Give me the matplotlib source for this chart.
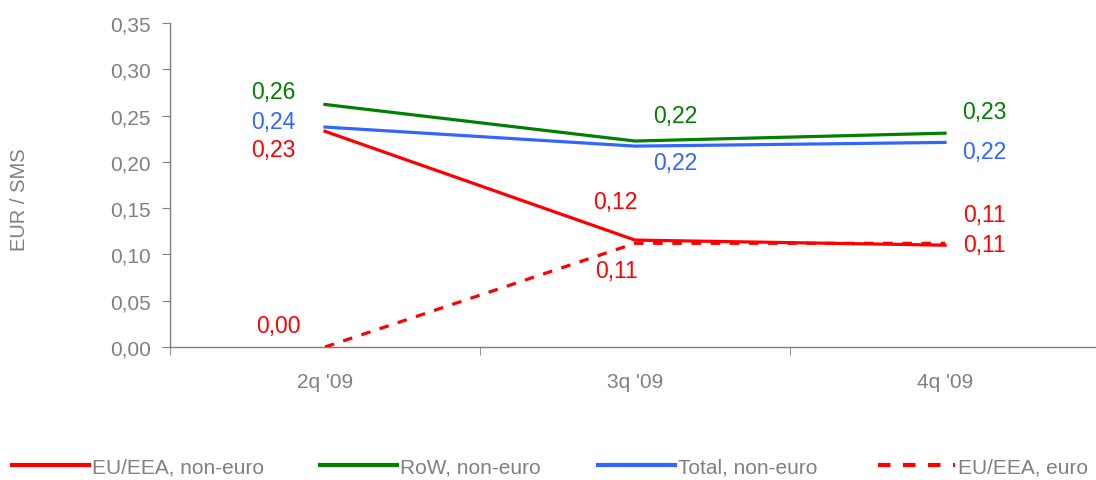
import matplotlib
matplotlib.use('Agg')
import matplotlib.pyplot as plt
from matplotlib.ticker import FuncFormatter

plt.rcParams['font.family'] = ['Liberation Sans', 'DejaVu Sans']

quarters = ["2q '09", "3q '09", "4q '09"]
eu_noneuro = [0.233, 0.1155, 0.110]
row_noneuro = [0.262, 0.2225, 0.231]
total_noneuro = [0.2376, 0.217, 0.221]
eu_euro = [0.0, 0.112, 0.112]

red = '#FF0000'
green = '#008000'
blue = '#3366FF'
grey = '#808080'

fig = plt.figure(figsize=(10.96, 4.81), dpi=100)
ax = fig.add_axes([170/1096, 1-348/481, 930/1096, 324/481])

x = range(len(quarters))
l1, = ax.plot(x, eu_noneuro, color=red, lw=2.3, label='EU/EEA, non-euro', zorder=3)
l2, = ax.plot(x, row_noneuro, color=green, lw=2.3, label='RoW, non-euro', zorder=3)
l3, = ax.plot(x, total_noneuro, color=blue, lw=2.3, label='Total, non-euro', zorder=3)
l4, = ax.plot(x, eu_euro, color=red, lw=2.3, ls=(0, (3, 3)), label='EU/EEA, euro', zorder=4)

fmt = lambda v: ('%.2f' % v).replace('.', ',')
fs = 16.5
def lab(xi, v, dx, dy, c):
    ax.annotate(fmt(v), (xi, v), xytext=(dx, dy), textcoords='offset pixels',
                color=c, fontsize=fs, ha='center', va='center')

# 2q labels to the left
lab(0, row_noneuro[0], -52, 13, green)
lab(0, total_noneuro[0], -52, 6, blue)
lab(0, eu_noneuro[0], -52, -18, red)
lab(0, eu_euro[0], -47, 22, red)
# 3q
lab(1, row_noneuro[1], 40, 26, green)
lab(1, total_noneuro[1], 40, -16, blue)
lab(1, eu_noneuro[1], -20, 39, red)
lab(1, eu_euro[1], -19, -27, red)
# 4q
lab(2, row_noneuro[2], 39, 22, green)
lab(2, total_noneuro[2], 39, -9, blue)
lab(2, eu_noneuro[2], 39, 31, red)
lab(2, eu_euro[2], 39, -1, red)

ax.set_xlim(-0.5, 2.5)
ax.set_ylim(0, 0.35)
ax.set_yticks([i * 0.05 for i in range(8)])
ax.yaxis.set_major_formatter(FuncFormatter(lambda v, p: fmt(v)))
ax.set_xticks(list(x))
ax.set_xticklabels(quarters)
ax.set_xticks([-0.5, 0.5, 1.5, 2.5], minor=True)
ax.tick_params(axis='x', which='major', length=0, pad=18, labelsize=15, labelcolor=grey)
ax.tick_params(axis='x', which='minor', length=6, direction='out', color=grey)
ax.tick_params(axis='y', length=6, direction='out', color=grey, labelsize=15, labelcolor=grey, pad=8)

for s in ['top', 'right']:
    ax.spines[s].set_visible(False)
for s in ['left', 'bottom']:
    ax.spines[s].set_color(grey)
    ax.spines[s].set_linewidth(1)

fig.text(20/1096, 1-200/481, 'EUR / SMS', rotation=90, color=grey, fontsize=14.5, ha='center', va='center')

# legend entries placed along the bottom
handles = [l1, l2, l3, l4]
xs = [12, 320, 598, 878]
for h, xp in zip(handles, xs):
    leg = fig.legend(handles=[h], loc='center left', bbox_to_anchor=(xp/1096, 1-468/481),
                     frameon=False, handlelength=3.7, handletextpad=0.15, fontsize=15,
                     borderpad=0, borderaxespad=0)
    for t in leg.get_texts():
        t.set_color(grey)
    leg.get_lines()[0].set_linewidth(3)

fig.savefig('out.png', dpi=100)
